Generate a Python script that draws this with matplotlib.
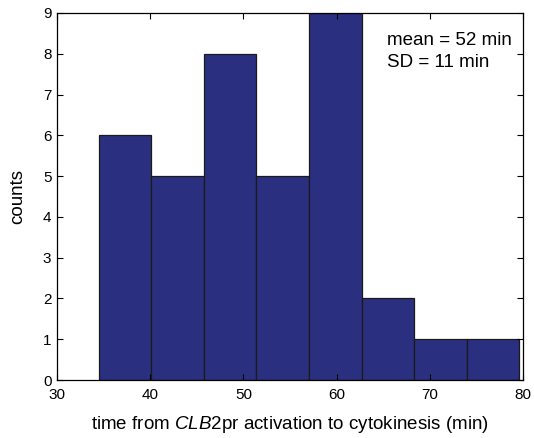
import numpy as np
import matplotlib
matplotlib.use('Agg')
import matplotlib.pyplot as plt

# histogram
bin_edges = [34.5, 40.13, 45.77, 51.4, 57.04, 62.68, 68.31, 73.95, 79.58]
counts = [6, 5, 8, 5, 9, 2, 1, 1]
x_ticks = [30, 40, 50, 60, 70, 80]
y_ticks = [0, 1, 2, 3, 4, 5, 6, 7, 8, 9]
stats_lines = ['mean = 52 min', 'SD = 11 min']

plt.rcParams['font.family'] = ['Liberation Sans', 'DejaVu Sans']
plt.rcParams['mathtext.fontset'] = 'custom'
plt.rcParams['mathtext.rm'] = 'Liberation Sans'
plt.rcParams['mathtext.it'] = 'Liberation Sans:italic'

fig = plt.figure(figsize=(5.34, 4.38), dpi=100)
ax = fig.add_axes([0.1067, 0.1324, 0.8727, 0.838])

edges = np.array(bin_edges)
ax.bar(edges[:-1], counts, width=np.diff(edges), align='edge',
       color='#2b2f80', edgecolor='#1a1a1a', linewidth=0.9)

ax.set_xlim(30, 80)
ax.set_ylim(0, 9)
ax.set_xticks(x_ticks)
ax.set_yticks(y_ticks)
ax.tick_params(direction='in', top=True, right=True, length=4,
               labelsize=11, width=0.8)
ax.tick_params(axis='x', pad=5.5)
ax.tick_params(axis='y', pad=4)
for s in ax.spines.values():
    s.set_linewidth(0.9)

ax.set_xlabel('time from $\\mathit{CLB2}$pr activation to cytokinesis (min)',
              fontsize=13.5, labelpad=9)
ax.set_ylabel('counts', fontsize=13.5, labelpad=12)

# stats annotation, one line each
for i, line in enumerate(stats_lines):
    ax.text(0.708, 0.913 - i * 0.06, line, transform=ax.transAxes,
            fontsize=13.5, va='baseline', ha='left')

fig.savefig('out.png', dpi=100)
